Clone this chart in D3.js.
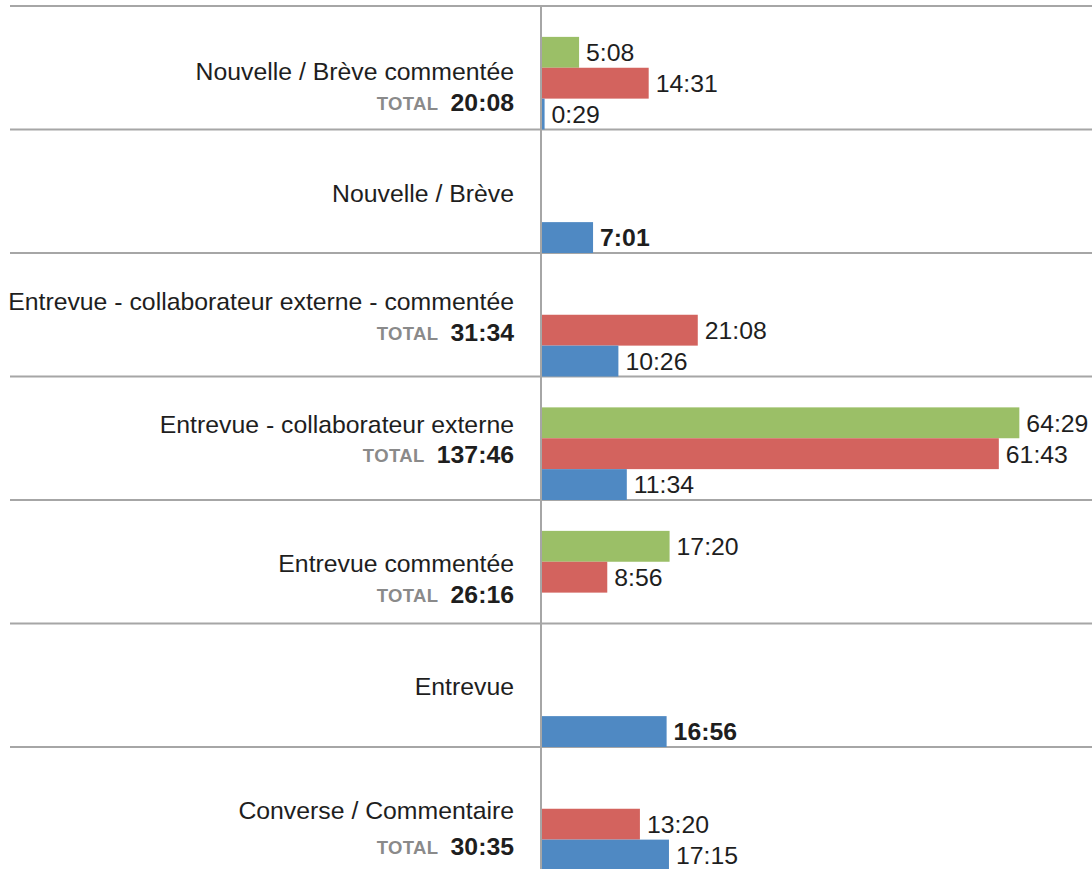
<!DOCTYPE html>
<html lang="fr">
<head>
<meta charset="utf-8">
<script src="https://cdn.jsdelivr.net/npm/d3@7"></script>
<style>
  html, body { margin: 0; padding: 0; background: #ffffff; }
  svg { display: block; font-family: Arial, "Liberation Sans", Helvetica, sans-serif; }
</style>
</head>
<body>
<svg id="chart" width="1092" height="869"></svg>
<script>
// Durées par type de contenu (mm:ss)
const categories = [
  "Nouvelle / Brève commentée",
  "Nouvelle / Brève",
  "Entrevue - collaborateur externe - commentée",
  "Entrevue - collaborateur externe",
  "Entrevue commentée",
  "Entrevue",
  "Converse / Commentaire"
];
const seriesKeys = ["vert", "rouge", "bleu"];
const greenValues = ["5:08", null, null, "64:29", "17:20", null, null];
const redValues   = ["14:31", null, "21:08", "61:43", "8:56", null, "13:20"];
const blueValues  = ["0:29", "7:01", "10:26", "11:34", null, "16:56", "17:15"];
const totals      = ["20:08", null, "31:34", "137:46", "26:16", null, "30:35"];
const totalWord   = "TOTAL";

// Layout: vertical centre of the name / total lines, relative to the row top
const nameOffset  = [65, 63.5, 48, 48, 63, 63, 63];
const totalOffset = [96, null, 79, 78, 94, null, 99];

const colors = { vert: "#9bbf67", rouge: "#d3635e", bleu: "#4f89c3" };
const gridColor = "#a6a6a6";
const textColor = "#1e1e1e";
const fontSize = 24.8;

const toSeconds = s => {
  const [m, sec] = s.split(":").map(Number);
  return m * 60 + sec;
};

const seriesValues = { vert: greenValues, rouge: redValues, bleu: blueValues };

const rows = categories.map((name, i) => {
  const bars = seriesKeys
    .filter(k => seriesValues[k][i] !== null)
    .map(k => ({ key: k, label: seriesValues[k][i], seconds: toSeconds(seriesValues[k][i]) }));
  return { name, i, total: totals[i], bars };
});

const svg = d3.select("#chart");
const W = 1092, H = 869;
const axisX = 541;
const labelRight = 514;

const x = d3.scaleLinear().domain([0, 4400]).range([axisX, 1085]);
const y = d3.scaleBand().domain(categories).range([6, 6 + 7 * 123.5]).padding(0);
const slot = d3.scaleBand().domain(["", ...seriesKeys]).range([0, y.bandwidth()]).padding(0);

// row separators
svg.append("g")
  .selectAll("line")
  .data(categories)
  .join("line")
  .attr("x1", 10).attr("x2", W)
  .attr("y1", d => y(d)).attr("y2", d => y(d))
  .attr("stroke", gridColor).attr("stroke-width", 2);

const row = svg.append("g")
  .selectAll("g")
  .data(rows)
  .join("g")
  .attr("transform", d => `translate(0,${y(d.name)})`);

// bars
row.selectAll("rect")
  .data(d => d.bars)
  .join("rect")
  .attr("x", axisX)
  .attr("y", b => slot(b.key))
  .attr("width", b => x(b.seconds) - axisX)
  .attr("height", slot.bandwidth())
  .attr("fill", b => colors[b.key]);

// value labels
row.each(function (d) {
  d3.select(this).selectAll("text.val")
    .data(d.bars)
    .join("text")
    .attr("class", "val")
    .attr("x", b => x(b.seconds) + 7)
    .attr("y", b => slot(b.key) + slot.bandwidth() / 2)
    .attr("dy", "0.36em")
    .attr("font-size", fontSize)
    .attr("font-weight", d.bars.length === 1 ? "bold" : "normal")
    .attr("fill", textColor)
    .text(b => b.label);
});

// category names
row.append("text")
  .attr("x", labelRight)
  .attr("y", d => nameOffset[d.i])
  .attr("dy", "0.36em")
  .attr("text-anchor", "end")
  .attr("font-size", fontSize)
  .attr("fill", textColor)
  .text(d => d.name);

// totals
const withTotal = row.filter(d => d.total !== null);
withTotal.each(function (d) {
  const g = d3.select(this);
  const v = g.append("text")
    .attr("x", labelRight)
    .attr("y", totalOffset[d.i])
    .attr("dy", "0.36em")
    .attr("text-anchor", "end")
    .attr("font-size", fontSize)
    .attr("font-weight", "bold")
    .attr("fill", textColor)
    .text(d.total);
  const w = v.node().getComputedTextLength();
  g.append("text")
    .attr("x", labelRight - w - 12)
    .attr("y", totalOffset[d.i] + 1)
    .attr("dy", "0.36em")
    .attr("text-anchor", "end")
    .attr("font-size", 18.5)
    .attr("font-weight", 900)
    .attr("letter-spacing", 0.4)
    .attr("fill", "#8a8a8a")
    .text(totalWord);
});

// vertical axis
svg.append("line")
  .attr("x1", axisX).attr("x2", axisX)
  .attr("y1", 6).attr("y2", H)
  .attr("stroke", gridColor).attr("stroke-width", 2);
</script>
</body>
</html>
